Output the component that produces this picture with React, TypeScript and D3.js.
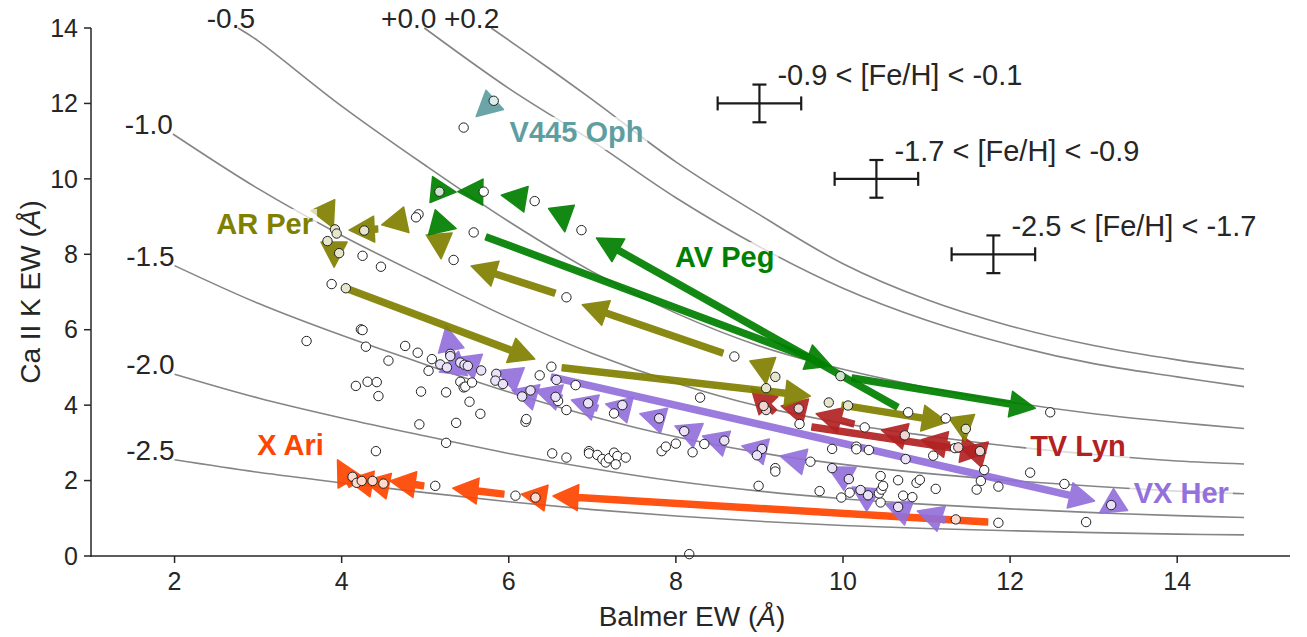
import React from 'react';
import * as d3 from 'd3';

// iso-[Fe/H] curves (Balmer EW, Ca II K EW)
const curveNames = ['-2.5', '-2.0', '-1.5', '-1.0', '-0.5', '+0.0', '+0.2'];
const curveM25 = [[2, 2.55], [3, 2.22], [4, 1.94], [5, 1.68], [6, 1.44], [7, 1.23], [8, 1.06], [9, 0.92], [10, 0.81], [11, 0.73], [12, 0.67], [13, 0.62], [14, 0.58], [14.8, 0.56]];
const curveM20 = [[2, 4.82], [3, 4.19], [4, 3.66], [5, 3.18], [6, 2.72], [7, 2.32], [8, 1.98], [9, 1.72], [10, 1.52], [11, 1.37], [12, 1.25], [13, 1.15], [14, 1.07], [14.8, 1.02]];
const curveM15 = [[2, 7.7], [3, 6.7], [4, 5.85], [5, 5.08], [6, 4.35], [7, 3.7], [8, 3.16], [9, 2.74], [10, 2.43], [11, 2.19], [12, 2.0], [13, 1.85], [14, 1.72], [14.8, 1.65]];
const curveM10 = [[1.98, 11.19], [3, 9.74], [4, 8.5], [5, 7.39], [6, 6.32], [7, 5.37], [8, 4.59], [9, 3.97], [10, 3.52], [11, 3.19], [12, 2.91], [13, 2.69], [14, 2.52], [14.8, 2.44]];
const curveM05 = [[2.76, 14], [3, 13.66], [4, 11.93], [5, 10.36], [6, 8.87], [7, 7.54], [8, 6.44], [9, 5.57], [10, 4.95], [11, 4.47], [12, 4.08], [13, 3.77], [14, 3.54], [14.8, 3.38]];
const curveP00 = [[4.99, 14], [6, 12.4], [7, 11.0], [8, 9.5], [9, 8.2], [10, 7.1], [11, 6.25], [12, 5.6], [13, 5.1], [14, 4.75], [14.8, 4.49]];
const curveP02 = [[5.79, 14], [6.5, 12.9], [7, 12.1], [8, 10.45], [9, 9.05], [10, 7.75], [11, 6.8], [12, 6.1], [13, 5.58], [14, 5.2], [14.8, 4.96]];
const curves = [curveM25, curveM20, curveM15, curveM10, curveM05, curveP00, curveP02];

// typical error bars per metallicity bin
const errCenters = [[9.0, 12.0], [10.4, 10.0], [11.8, 8.0]];
const errLabels = ['-0.9 < [Fe/H] < -0.1', '-1.7 < [Fe/H] < -0.9', '-2.5 < [Fe/H] < -1.7'];
const errX = 0.5;
const errY = 0.5;

// full sample (open circles)
const sample = [
  [5.46, 11.36], [5.70, 9.66], [6.31, 9.41], [6.87, 8.64], [4.92, 9.06], [4.89, 8.98], [5.58, 8.58], [5.34, 7.85],
  [4.25, 7.96], [4.47, 7.67], [3.88, 7.21], [6.69, 6.86], [4.23, 6.01], [4.25, 5.99], [3.58, 5.70], [4.29, 5.55],
  [4.76, 5.57], [4.91, 5.39], [4.56, 5.18], [5.08, 5.22], [5.04, 4.91], [6.37, 4.79], [6.51, 5.02], [6.59, 4.11],
  [6.80, 4.53], [6.69, 3.87], [7.26, 3.78], [8.29, 4.20], [8.70, 5.29], [8.20, 2.75], [7.83, 2.78], [7.88, 2.90],
  [8.00, 2.98], [8.34, 2.97], [4.17, 4.51], [4.31, 4.62], [4.42, 4.61], [4.44, 4.24], [4.95, 4.36], [5.25, 4.34],
  [5.42, 4.62], [5.46, 4.47], [5.48, 4.49], [5.56, 4.60], [5.53, 4.09], [5.66, 3.77], [4.93, 3.49], [5.37, 3.53],
  [6.20, 3.56], [6.21, 3.63], [5.25, 3.00], [4.41, 2.78], [6.52, 2.72], [6.69, 2.61], [6.96, 2.78], [6.96, 2.72],
  [7.06, 2.68], [7.12, 2.57], [7.16, 2.48], [7.20, 2.59], [7.26, 2.74], [7.30, 2.65], [7.28, 2.43], [7.40, 2.61],
  [5.12, 1.86], [6.08, 1.60], [8.16, 0.05], [8.99, 1.86], [9.19, 2.33], [9.19, 2.24], [9.61, 2.50], [9.72, 1.72],
  [9.98, 1.55], [10.08, 1.68], [10.45, 2.12], [10.66, 2.01], [10.45, 1.42], [10.43, 1.66], [10.46, 1.76], [10.48, 1.86],
  [10.72, 1.60], [10.83, 1.56], [10.88, 1.94], [10.92, 2.02], [11.11, 1.78], [11.60, 1.76], [11.65, 1.99], [11.69, 2.28],
  [11.86, 1.84], [11.86, 0.88], [12.24, 2.21], [12.48, 3.81], [12.65, 1.91], [12.91, 0.90], [10.78, 3.81], [11.23, 3.65],
  [10.26, 3.41], [9.48, 3.50], [11.08, 2.66], [10.16, 2.90], [10.16, 2.83], [10.31, 2.81], [11.34, 2.86], [9.87, 2.84],
];

// individual stars: observed points and phase arrows [x0, y0, x1, y1]
const v445Points = [[5.82, 12.07]];
const v445Arrows = [[5.83, 12.09, 5.61, 11.65]];

const avPegPoints = [[5.17, 9.66], [9.97, 4.77]];
const avPegArrows = [
  [5.73, 8.46, 9.86, 5.04], [10.65, 3.95, 7.05, 8.43], [10.11, 4.72, 12.30, 3.92],
  [5.10, 9.71, 5.37, 9.65], [5.68, 9.65, 5.39, 9.66], [6.18, 9.47, 5.91, 9.57],
  [6.64, 9.10, 6.67, 8.60], [5.08, 8.85, 5.37, 8.68],
];

const arPerPoints = [[3.92, 8.66], [3.94, 8.55], [3.83, 8.35], [3.97, 8.03], [4.27, 8.63], [4.05, 7.10], [9.19, 4.75], [9.08, 4.45], [9.83, 4.07], [10.06, 3.99], [11.47, 3.37]];
const arPerArrows = [
  [3.78, 9.28, 3.90, 8.70], [3.91, 8.25, 3.91, 7.66], [4.43, 8.67, 4.09, 8.64], [4.76, 8.91, 4.48, 8.78],
  [5.17, 8.46, 5.19, 7.88], [4.05, 7.10, 6.31, 5.22], [6.55, 6.97, 5.55, 7.69], [8.56, 5.38, 6.88, 6.66],
  [6.64, 4.99, 9.61, 4.24], [9.05, 5.06, 9.08, 4.56], [9.99, 4.00, 11.25, 3.55], [11.43, 3.55, 11.46, 3.05],
];

const tvLynPoints = [[9.08, 3.87], [9.05, 3.98], [9.47, 3.91], [10.74, 3.20], [11.38, 2.88], [11.64, 2.78]];
const tvLynArrows = [
  [9.18, 3.82, 8.90, 4.46], [9.56, 3.82, 9.26, 3.98], [10.13, 3.50, 9.68, 3.77], [9.63, 3.42, 11.71, 2.73],
  [11.71, 2.68, 11.41, 2.86], [11.27, 2.94, 10.94, 3.08], [10.77, 3.16, 10.46, 3.34],
];

const vxHerPoints = [
  [5.30, 5.36], [5.30, 5.30], [5.18, 5.08], [5.26, 5.00], [5.42, 5.13], [5.47, 5.07], [5.51, 5.04], [5.67, 4.92],
  [5.85, 4.83], [5.84, 4.65], [5.93, 4.56], [6.16, 4.23], [6.26, 4.39], [6.56, 4.22], [6.57, 4.67], [6.95, 4.05],
  [7.36, 4.00], [7.80, 3.65], [8.10, 3.31], [8.58, 3.06], [9.03, 2.84], [8.97, 2.67], [9.87, 2.33], [10.07, 2.04],
  [10.21, 1.75], [10.30, 1.61], [10.66, 1.30], [10.75, 2.57], [13.21, 1.35],
];
const vxHerArrows = [
  [6.51, 4.75, 13.01, 1.46], [13.33, 1.51, 13.07, 1.14], [5.31, 5.46, 5.25, 6.10], [5.43, 5.09, 5.17, 4.88],
  [5.61, 5.04, 5.35, 5.25], [6.13, 4.67, 5.85, 4.91], [6.31, 4.22, 6.04, 4.40], [6.63, 4.19, 6.32, 4.40],
  [7.06, 3.92, 6.75, 4.14], [7.45, 3.87, 7.16, 4.03], [7.87, 3.58, 7.57, 3.77], [8.28, 3.18, 7.99, 3.45],
  [8.62, 2.97, 8.32, 3.18], [9.09, 2.76, 8.79, 2.92], [9.55, 2.49, 9.25, 2.65], [10.09, 2.04, 9.82, 2.36],
  [10.36, 1.49, 10.11, 1.83], [10.80, 1.14, 10.51, 1.38], [11.22, 0.95, 10.89, 1.19],
];

const xAriPoints = [[4.13, 2.10], [4.18, 1.94], [4.24, 1.99], [4.37, 1.99], [4.50, 1.92], [6.32, 1.55], [11.35, 0.97]];
const xAriArrows = [
  [11.73, 0.90, 6.53, 1.59], [6.44, 1.54, 6.15, 1.64], [5.94, 1.64, 5.33, 1.80], [4.98, 1.86, 4.58, 1.99],
  [4.55, 1.86, 4.27, 1.99], [4.36, 1.91, 4.07, 2.02], [4.12, 1.86, 3.95, 2.55],
];

// drawing order: bottom first
const stars = [
  { name: 'X Ari', color: '#ff4500', points: xAriPoints, arrows: xAriArrows, at: [2.99, 2.68] },
  { name: 'TV Lyn', color: '#b22222', points: tvLynPoints, arrows: tvLynArrows, at: [12.24, 2.65] },
  { name: 'VX Her', color: '#9370db', points: vxHerPoints, arrows: vxHerArrows, at: [13.48, 1.41] },
  { name: 'AR Per', color: '#808000', points: arPerPoints, arrows: arPerArrows, at: [2.5, 8.54] },
  { name: 'AV Peg', color: '#008000', points: avPegPoints, arrows: avPegArrows, at: [7.99, 7.66] },
  { name: 'V445 Oph', color: '#5f9ea0', points: v445Points, arrows: v445Arrows, at: [6.01, 10.98] },
];

const FONT = '"Liberation Sans", Arial, sans-serif';
const TXT = '#262626';

function arrowPath(x0: number, y0: number, x1: number, y1: number) {
  const dx = x1 - x0, dy = y1 - y0;
  const len = Math.hypot(dx, dy) || 1;
  const ux = dx / len, uy = dy / len, nx = -uy, ny = ux;
  const hl = 25, hw = 13, sw = 3;
  const bx = x1 - ux * hl, by = y1 - uy * hl;
  const p = (a: number, b: number) => `${a.toFixed(1)},${b.toFixed(1)}`;
  if (len <= hl + 2) {
    return `M${p(bx + nx * hw, by + ny * hw)}L${p(x1, y1)}L${p(bx - nx * hw, by - ny * hw)}Z`;
  }
  return 'M' + [
    p(x0 + nx * sw, y0 + ny * sw), p(bx + nx * sw, by + ny * sw), p(bx + nx * hw, by + ny * hw),
    p(x1, y1), p(bx - nx * hw, by - ny * hw), p(bx - nx * sw, by - ny * sw), p(x0 - nx * sw, y0 - ny * sw),
  ].join('L') + 'Z';
}

let ctx: CanvasRenderingContext2D | null = null;
function textWidth(t: string, font: string) {
  if (!ctx) ctx = document.createElement('canvas').getContext('2d');
  if (!ctx) return t.length * 16;
  ctx.font = font;
  return ctx.measureText(t).width;
}

export default function App() {
  const x = d3.scaleLinear().domain([1, 15.35]).range([91, 1290]);
  const y = d3.scaleLinear().domain([0, 14]).range([556, 28]);
  const line = d3.line<number[]>().x(d => x(d[0])).y(d => y(d[1])).curve(d3.curveCatmullRom);
  const xTicks = [2, 4, 6, 8, 10, 12, 14];
  const yTicks = d3.range(0, 15, 2);
  // label nudges for the curves clipped at the top
  const labelNudge = [0, 0, 0, 0, 17, 12, 8];

  return (
    <svg width={1307} height={637} style={{ position: 'absolute', left: 0, top: 0, display: 'block', background: '#fff' }}
      fontFamily={FONT}>
      {/* iso-metallicity curves */}
      {curves.map((c, i) => (
        <g key={i}>
          <path d={line(c) || ''} fill="none" stroke="#858585" strokeWidth={1.6} />
          <text x={x(c[0][0]) + labelNudge[i]} y={y(c[0][1])} textAnchor="end" fontSize={28} fill={TXT}>
            {curveNames[i]}
          </text>
        </g>
      ))}

      {/* error bars */}
      {errCenters.map((c, i) => {
        const cx = x(c[0]), cy = y(c[1]);
        const x0 = x(c[0] - errX), x1 = x(c[0] + errX), y0 = y(c[1] - errY), y1 = y(c[1] + errY);
        return (
          <g key={i} stroke="#1a1a1a" strokeWidth={2.2}>
            <line x1={x0} x2={x1} y1={cy} y2={cy} />
            <line x1={cx} x2={cx} y1={y0} y2={y1} />
            <line x1={x0} x2={x0} y1={cy - 7} y2={cy + 7} />
            <line x1={x1} x2={x1} y1={cy - 7} y2={cy + 7} />
            <line x1={cx - 7} x2={cx + 7} y1={y0} y2={y0} />
            <line x1={cx - 7} x2={cx + 7} y1={y1} y2={y1} />
            <text x={cx + 18} y={cy - 18} fontSize={29} fill={TXT} stroke="none">{errLabels[i]}</text>
          </g>
        );
      })}

      {/* phase arrows */}
      {stars.map(s => (
        <g key={s.name} fill={s.color} stroke={s.color} strokeWidth={1.5} strokeLinejoin="round">
          {s.arrows.map((a, j) => (
            <path key={j} d={arrowPath(x(a[0]), y(a[1]), x(a[2]), y(a[3]))} opacity={0.92} />
          ))}
        </g>
      ))}

      {/* sample */}
      {sample.map((d, i) => (
        <circle key={i} cx={x(d[0])} cy={y(d[1])} r={4.7} fill="#fff" stroke="#222" strokeWidth={1} />
      ))}
      {stars.map(s => (
        <g key={s.name}>
          {s.points.map((d, j) => (
            <circle key={j} cx={x(d[0])} cy={y(d[1])} r={4.7}
              fill={d3.interpolateRgb(s.color, '#ffffff')(0.8)} stroke="#222" strokeWidth={1} />
          ))}
        </g>
      ))}

      {/* star labels */}
      {stars.map(s => {
        const lx = x(s.at[0]), ly = y(s.at[1]);
        const w = textWidth(s.name, `bold 29px ${FONT}`);
        return (
          <g key={s.name}>
            <rect x={lx - 4} y={ly - 25} width={w + 8} height={33} fill="#fff" opacity={0.7} />
            <text x={lx} y={ly} fontSize={29} fontWeight="bold" fill={s.color}>{s.name}</text>
          </g>
        );
      })}

      {/* axes */}
      <g stroke="#262626" strokeWidth={1.5}>
        <line x1={91} x2={91} y1={28} y2={556.75} />
        <line x1={90.25} x2={1290} y1={556} y2={556} />
        {yTicks.map(t => <line key={t} x1={84} x2={91} y1={y(t)} y2={y(t)} />)}
        {xTicks.map(t => <line key={t} x1={x(t)} x2={x(t)} y1={556} y2={563} />)}
      </g>
      {yTicks.map(t => (
        <text key={t} x={78} y={y(t)} dy="0.35em" textAnchor="end" fontSize={25} fill={TXT}>{t}</text>
      ))}
      {xTicks.map(t => (
        <text key={t} x={x(t)} y={590} textAnchor="middle" fontSize={25} fill={TXT}>{t}</text>
      ))}
      <text x={692} y={626} textAnchor="middle" fontSize={28} fill={TXT}>
        Balmer EW (<tspan fontStyle="italic">Å</tspan>)
      </text>
      <text transform="translate(40,292) rotate(-90)" textAnchor="middle" fontSize={28} fill={TXT}>
        Ca II K EW (<tspan fontStyle="italic">Å</tspan>)
      </text>
    </svg>
  );
}
